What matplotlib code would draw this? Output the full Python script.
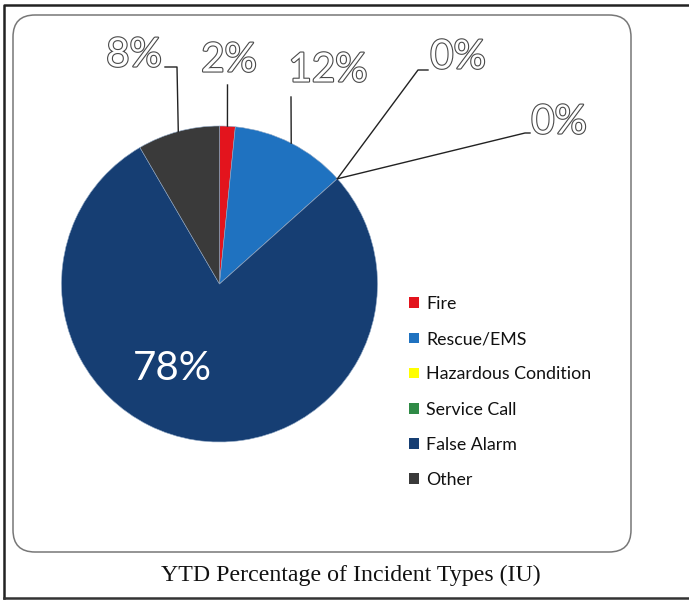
import matplotlib
matplotlib.use("Agg")
import matplotlib.pyplot as plt
import matplotlib.patheffects as pe
from matplotlib.patches import FancyBboxPatch, Rectangle
import numpy as np

categories = ["Fire", "Rescue/EMS", "Hazardous Condition", "Service Call", "False Alarm", "Other"]
values = [1.6, 11.8, 0.0, 0.0, 78.2, 8.4]
colors = ["#e3141d", "#1f72c0", "#ffff00", "#2f8a46", "#163e73", "#3a3a3a"]
title = "YTD Percentage of Incident Types (IU)"

W, H = 689, 601
fig = plt.figure(figsize=(W / 100, H / 100), dpi=100)

# background axes in pixel coordinates
bg = fig.add_axes([0, 0, 1, 1], zorder=0)
bg.set_xlim(0, W)
bg.set_ylim(H, 0)
bg.axis("off")
bg.plot([4, 4, W], [598, 5, 5], color="#222222", lw=1.8)
bg.plot([4, W], [598, 598], color="#333333", lw=1.8)
bg.add_patch(FancyBboxPatch((13, 15), 618, 537, boxstyle="round,pad=0,rounding_size=22",
                            fc="white", ec="#777777", lw=1.1))
bg.text(351, 575, title, ha="center", va="center", fontsize=17.2,
        family="Liberation Serif", color="#111111")

# pie axes
cx, cy, r = 219.5, 284, 158
ax = fig.add_axes([(cx - r) / W, (H - cy - r) / H, 2 * r / W, 2 * r / H], zorder=2)
wedges, _ = ax.pie(values, colors=colors, startangle=90, counterclock=False,
                   radius=1, wedgeprops=dict(edgecolor="#8fa7c4", linewidth=0.4))
ax.set_xlim(-1, 1)
ax.set_ylim(-1, 1)
ax.set_aspect("equal")
ax.axis("off")

def px2d(x, y):
    return (x - cx) / r, (cy - y) / r

outline = [pe.Stroke(linewidth=1.6, foreground="#4a4a4a"), pe.Normal()]
lab_fs = 29
lab_font = dict(family="Lato", weight="normal")

# label layout: (index, elbow pixel, text end pixel, text pos pixel)
layout = [
    (5, (177, 67), (165, 67), (134, 55)),
    (0, (227.5, 85), (227.5, 85), (229, 60)),
    (1, (291, 97), (291, 97), (328, 70)),
    (2, (418, 70), (428, 70), (458, 57)),
    (3, (525, 133), (530, 133), (559, 122)),
]
for idx, elbow, tend, tpos in layout:
    w = wedges[idx]
    ang = np.deg2rad((w.theta1 + w.theta2) / 2)
    ax_pt = (np.cos(ang), np.sin(ang))
    e = px2d(*elbow)
    t = px2d(*tend)
    ax.plot([ax_pt[0], e[0], t[0]], [ax_pt[1], e[1], t[1]], color="#222222", lw=1.0,
            clip_on=False, zorder=3)
    p = px2d(*tpos)
    ax.text(p[0], p[1], f"{values[idx]:.0f}%", ha="center", va="center", fontsize=lab_fs,
            color="white", path_effects=outline, clip_on=False, zorder=4, **lab_font)

p = px2d(172, 368)
ax.text(p[0], p[1], f"{values[4]:.0f}%", ha="center", va="center", fontsize=lab_fs,
        color="white", zorder=4, **lab_font)

# legend
handles = [Rectangle((0, 0), 1, 1, fc=c, ec="none") for c in colors]
leg = fig.legend(handles, categories, loc="upper left", bbox_to_anchor=(409 / W, 1 - 296 / H),
                 frameon=False, handlelength=0.55, handleheight=0.55,
                 handletextpad=0.4, labelspacing=1.08, borderpad=0, borderaxespad=0,
                 prop={"family": "Lato", "size": 12.8})
for t in leg.get_texts():
    t.set_color("#111111")

fig.savefig("out.png", dpi=100)
